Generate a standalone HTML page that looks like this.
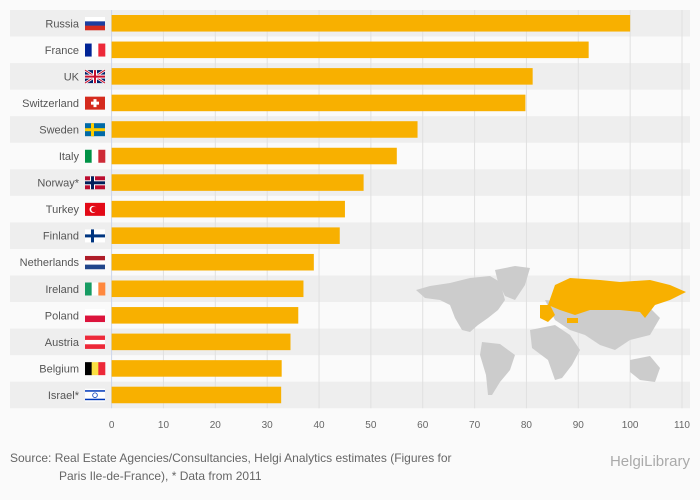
<!DOCTYPE html>
<html><head><meta charset="utf-8"><style>
body{margin:0;background:#fafafa;font-family:"Liberation Sans",sans-serif;}
#c{position:relative;width:700px;height:500px;overflow:hidden;}
svg text{font-family:"Liberation Sans",sans-serif;}
</style></head><body><div id="c">
<svg id="s" width="700" height="500"></svg>
</div>
<script>
const categories=["Russia","France","UK","Switzerland","Sweden","Italy","Norway*","Turkey","Finland","Netherlands","Ireland","Poland","Austria","Belgium","Israel*"];
const values=[100,92,81.2,79.8,59,55,48.6,45,44,39,37,36,34.5,32.8,32.7];
const ticks=[0,10,20,30,40,50,60,70,80,90,100,110];
const NS="http://www.w3.org/2000/svg";
const s=document.getElementById('s');
const x0=111.6,x1=682,topY=10,rh=26.55;
const xs=v=>x0+(v/110)*(x1-x0);
const ys=i=>topY+i*rh;
function mk(t,a,p){const e=document.createElementNS(NS,t);for(const k in a)e.setAttribute(k,a[k]);(p||s).appendChild(e);return e;}
categories.forEach((c,i)=>{if(i%2==0){const b=mk('rect',{x:10,y:ys(i),width:680,height:rh,fill:'#eeeeee'});

}});
ticks.forEach(t=>{const l=mk('line',{x1:xs(t),x2:xs(t),y1:topY,y2:ys(categories.length),stroke:t==0?'#ccd6eb':'#e0e0e0','stroke-width':1});


const tx=mk('text',{x:xs(t),y:428,'text-anchor':'middle','font-size':10,fill:'#666'});tx.textContent=t;

});
const g=mk('g',{});


const gray='#cccccc',org='#f8b000';
const shapes=[
[gray,"M416,290 L430,286 L450,283 L470,278 L490,276 L500,282 L505,300 L498,310 L488,318 L478,325 L470,332 L462,330 L455,318 L450,305 L440,300 L425,298 Z"],
[gray,"M495,270 L515,266 L530,268 L525,285 L515,300 L505,296 L498,282 Z"],
[gray,"M482,342 L500,344 L515,355 L510,370 L500,382 L492,395 L488,395 L486,375 L480,355 Z"],
[gray,"M530,330 L555,325 L570,335 L580,350 L572,365 L562,378 L555,380 L548,360 L532,348 Z"],
[gray,"M545,300 L600,305 L650,308 L660,318 L650,335 L630,340 L615,350 L600,345 L585,335 L570,330 L555,320 Z"],
[gray,"M630,360 L650,356 L660,368 L655,382 L640,380 L630,372 Z"],
[org,"M555,285 L570,278 L600,280 L620,282 L650,280 L670,285 L686,292 L670,300 L655,305 L645,318 L640,312 L620,310 L590,310 L575,315 L560,310 L548,305 Z"],
[org,"M540,305 L550,305 L555,315 L548,322 L540,318 Z"],
[org,"M567,318 L578,318 L578,323 L567,323 Z"]
];
shapes.forEach(sh=>{const p=mk('path',{d:sh[1],fill:sh[0]},g);

});
const flags=[
[['#fff','#1c3ea0','#d52b1e'],'h'],[['#002395','#fff','#ed2939'],'v'],[null,'uk'],[null,'ch'],[null,'se'],[['#009246','#fff','#ce2b37'],'v'],[null,'no'],[null,'tr'],[null,'fi'],[['#ae1c28','#fff','#21468b'],'h'],[['#169b62','#fff','#ff883e'],'v'],[null,'h2'],[['#ed2939','#fff','#ed2939'],'h'],[['#000','#fae042','#ed2939'],'v'],[null,'il']];
categories.forEach((c,i)=>{
 const y=ys(i);
 const b=mk('rect',{x:xs(0),y:y+5,width:xs(values[i])-xs(0),height:rh-10,fill:'#f8b000'});
 
 
 const t=mk('text',{x:79,y:y+rh/2+4,'text-anchor':'end','font-size':11,fill:'#555'});t.textContent=c;
 
 
 const fg=mk('g',{});
 
 
 const fx=85,fy=y+7,fw=20,fh=13;const cols=flags[i][0],k=flags[i][1];
 if(k=='h'){cols.forEach((cl,j)=>mk('rect',{x:fx,y:fy+j*fh/3,width:fw,height:fh/3+0.3,fill:cl},fg));}
 else if(k=='h2'){mk('rect',{x:fx,y:fy,width:fw,height:fh/2,fill:'#fff'},fg);mk('rect',{x:fx,y:fy+fh/2,width:fw,height:fh/2,fill:'#dc143c'},fg);}
 else if(k=='v'){cols.forEach((cl,j)=>mk('rect',{x:fx+j*fw/3,y:fy,width:fw/3+0.3,height:fh,fill:cl},fg));}
 else if(k=='uk'){mk('rect',{x:fx,y:fy,width:fw,height:fh,fill:'#012169'},fg);mk('path',{d:`M${fx},${fy}L${fx+fw},${fy+fh}M${fx+fw},${fy}L${fx},${fy+fh}`,stroke:'#fff','stroke-width':2.5},fg);mk('path',{d:`M${fx},${fy}L${fx+fw},${fy+fh}M${fx+fw},${fy}L${fx},${fy+fh}`,stroke:'#c8102e','stroke-width':1},fg);mk('rect',{x:fx,y:fy+4.5,width:fw,height:4,fill:'#fff'},fg);mk('rect',{x:fx+8,y:fy,width:4,height:fh,fill:'#fff'},fg);mk('rect',{x:fx,y:fy+5.5,width:fw,height:2,fill:'#c8102e'},fg);mk('rect',{x:fx+9,y:fy,width:2,height:fh,fill:'#c8102e'},fg);}
 else if(k=='ch'){mk('rect',{x:fx,y:fy,width:fw,height:fh,fill:'#d52b1e'},fg);mk('rect',{x:fx+8.5,y:fy+2.5,width:3,height:8,fill:'#fff'},fg);mk('rect',{x:fx+6,y:fy+5,width:8,height:3,fill:'#fff'},fg);}
 else if(k=='se'||k=='fi'||k=='no'){const bg={se:'#006aa7',fi:'#fff',no:'#ba0c2f'}[k],cr={se:'#fecc00',fi:'#003580',no:'#00205b'}[k];mk('rect',{x:fx,y:fy,width:fw,height:fh,fill:bg},fg);if(k=='no'){mk('rect',{x:fx,y:fy+4,width:fw,height:5,fill:'#fff'},fg);mk('rect',{x:fx+5,y:fy,width:5,height:fh,fill:'#fff'},fg);}mk('rect',{x:fx,y:fy+5,width:fw,height:3,fill:cr},fg);mk('rect',{x:fx+6,y:fy,width:3,height:fh,fill:cr},fg);}
 else if(k=='tr'){mk('rect',{x:fx,y:fy,width:fw,height:fh,fill:'#e30a17'},fg);mk('circle',{cx:fx+8,cy:fy+6.5,r:3.5,fill:'#fff'},fg);mk('circle',{cx:fx+9,cy:fy+6.5,r:2.8,fill:'#e30a17'},fg);}
 else if(k=='il'){mk('rect',{x:fx,y:fy,width:fw,height:fh,fill:'#fff'},fg);mk('rect',{x:fx,y:fy+1.5,width:fw,height:1.5,fill:'#0038b8'},fg);mk('rect',{x:fx,y:fy+10,width:fw,height:1.5,fill:'#0038b8'},fg);mk('circle',{cx:fx+10,cy:fy+6.5,r:2.3,fill:'none',stroke:'#0038b8','stroke-width':0.8},fg);}
});
const src=mk('text',{x:10,y:462,'font-size':12,fill:'#666'});src.textContent="Source: Real Estate Agencies/Consultancies, Helgi Analytics estimates (Figures for";


const src2=mk('text',{x:59,y:480,'font-size':12,fill:'#666'});src2.textContent="Paris Ile-de-France), * Data from 2011";


const logo=mk('text',{x:690,y:466,'font-size':15,fill:'#aaa','text-anchor':'end','font-family':'Liberation Serif'});logo.textContent="HelgiLibrary";


</script></body></html>
